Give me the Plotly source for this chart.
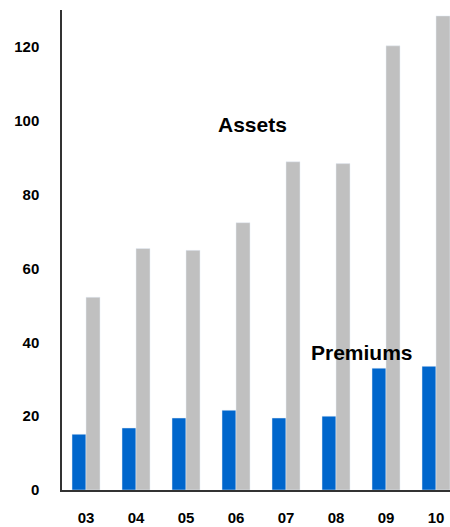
import plotly.graph_objects as go

years = ["03", "04", "05", "06", "07", "08", "09", "10"]
premiums = [15.1, 16.8, 19.5, 21.6, 19.5, 20.0, 33.0, 33.5]
assets = [52.2, 65.4, 64.9, 72.4, 88.9, 88.4, 120.3, 128.4]
y_ticks = [0, 20, 40, 60, 80, 100, 120]

fig = go.Figure()
fig.add_trace(go.Bar(x=years, y=premiums, name="Premiums", marker_color="#0066CC"))
fig.add_trace(go.Bar(x=years, y=assets, name="Assets", marker_color="#C0C0C0"))

font = dict(family="Liberation Sans, Arial, sans-serif", color="black")
fig.update_layout(
    width=450, height=527,
    margin=dict(l=62, r=0, t=10, b=37),
    barmode="group", bargap=0.44, bargroupgap=0,
    plot_bgcolor="white", paper_bgcolor="white",
    showlegend=False,
    font=font,
    xaxis=dict(
        range=[-0.48, 7.28], showgrid=False, showline=True, linecolor="#333333",
        linewidth=1.5, ticks="", tickfont=dict(size=15, family="Liberation Sans", color="black", weight="bold"),
        ticklabelstandoff=13,
    ),
    yaxis=dict(
        range=[0, 130], tickvals=y_ticks, showgrid=False, showline=True, linecolor="#333333",
        linewidth=1.5, ticks="", zeroline=False,
        tickfont=dict(size=15, family="Liberation Sans", color="black", weight="bold"),
        ticklabelstandoff=18,
    ),
    annotations=[
        dict(x=3.32, y=99.0, xref="x", yref="y", text="<b>Assets</b>", showarrow=False,
             font=dict(size=21, family="Liberation Sans", color="black")),
        dict(x=5.52, y=37.3, xref="x", yref="y", text="<b>Premiums</b>", showarrow=False,
             font=dict(size=21, family="Liberation Sans", color="black")),
    ],
)
fig.write_html("out.html")
